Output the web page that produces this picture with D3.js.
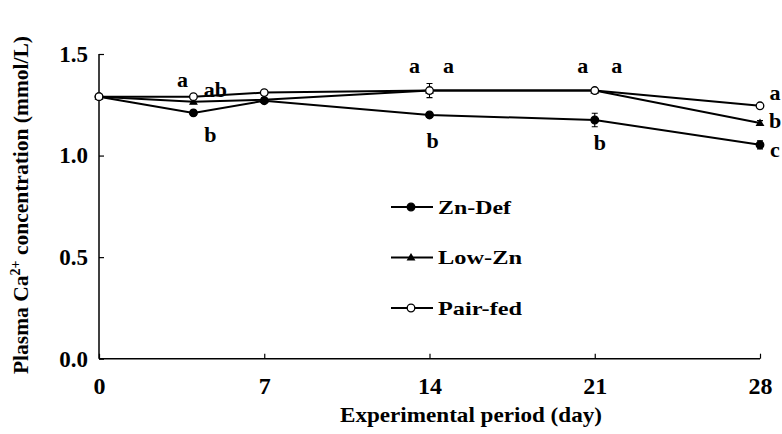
<!DOCTYPE html>
<html>
<head>
<meta charset="utf-8">
<script src="https://cdn.jsdelivr.net/npm/d3@7"></script>
<style>
body { margin: 0; background: #fff; }
</style>
</head>
<body>
<div id="chart"></div>
<script>
var days = [0, 4, 7, 14, 21, 28]
var yTicks = [0.0, 0.5, 1.0, 1.5]
var xTicks = [0, 7, 14, 21, 28]

var znDef   = [1.29, 1.21, 1.27, 1.20, 1.175, 1.053]
var lowZn   = [1.29, 1.265, 1.275, 1.32, 1.32, 1.16]
var pairFed = [1.29, 1.29, 1.31, 1.32, 1.32, 1.245]

var znDefErr   = [0, 0.01, 0.01, 0.01, 0.033, 0.02]
var lowZnErr   = [0, 0.01, 0.01, 0.01, 0.01, 0.012]
var pairFedErr = [0, 0.01, 0.01, 0.035, 0.01, 0.01]

// significance letters: [day, value, text, dx, dy]
var letters = [
  [4, 1.29, "a", -11, -10], [4, 1.29, "ab", 22, 0], [4, 1.21, "b", 17, 29],
  [14, 1.32, "a", -15, -18], [14, 1.32, "a", 19, -18], [14, 1.20, "b", 3, 33],
  [21, 1.32, "a", -12, -18], [21, 1.32, "a", 22, -18], [21, 1.175, "b", 5, 30],
  [28, 1.245, "a", 15, -6], [28, 1.16, "b", 15, 5], [28, 1.053, "c", 15, 12]
]

var series = [
  {name: "Zn-Def", values: znDef, err: znDefErr, shape: "dot"},
  {name: "Low-Zn", values: lowZn, err: lowZnErr, shape: "tri"},
  {name: "Pair-fed", values: pairFed, err: pairFedErr, shape: "open"}
]

var serif = "Liberation Serif"
var width = 782, height = 434
var x = d3.scaleLinear().domain([0, 28]).range([99, 760])
var y = d3.scaleLinear().domain([0, 1.5]).range([358.7, 54])

var svg = d3.select("#chart").append("svg")
    .attr("width", width).attr("height", height)
    .style("font-family", serif)

// axes
svg.append("g")
    .attr("transform", "translate(0," + y(0) + ")")
    .call(d3.axisBottom(x).tickValues(xTicks).tickSize(-5).tickPadding(18).tickFormat(d3.format("d")))
    .call(function(g) {
        g.attr("font-family", null)
        g.select(".domain").attr("stroke-width", 1.5).attr("d", "M" + x(0) + ",0H" + x(28))
        g.selectAll("line").attr("stroke-width", 1.2)
        g.selectAll("text").style("font-family", serif).style("font-weight", "bold")
            .attr("font-size", 24).attr("dy", "0.71em")
    })

svg.append("g")
    .attr("transform", "translate(" + x(0) + ",0)")
    .call(d3.axisLeft(y).tickValues(yTicks).tickSize(-5).tickPadding(11).tickFormat(d3.format(".1f")))
    .call(function(g) {
        g.attr("font-family", null)
        g.select(".domain").attr("stroke-width", 1.5).attr("d", "M0," + y(1.5) + "V" + y(0))
        g.selectAll("line").attr("stroke-width", 1.2)
        g.selectAll("text").style("font-family", serif).style("font-weight", "bold")
            .attr("font-size", 23)
    })

svg.append("text")
    .attr("x", 340).attr("y", 422)
    .attr("font-size", 22).style("font-weight", "bold")
    .attr("textLength", 262).attr("lengthAdjust", "spacingAndGlyphs")
    .text("Experimental period (day)")

var yt = svg.append("text")
    .attr("transform", "translate(28,205) rotate(-90)")
    .attr("text-anchor", "middle").attr("font-size", 21.5).style("font-weight", "bold")
yt.append("tspan").text("Plasma Ca")
yt.append("tspan").attr("dy", -8).attr("font-size", 14).text("2+")
yt.append("tspan").attr("dy", 8).text(" concentration (mmol/L)")

var line = d3.line().x(function(d, i) { return x(days[i]) }).y(function(d) { return y(d) })

function drawMarker(g, shape, cx, cy) {
    if (shape == "tri") {
        g.append("path")
            .attr("d", d3.symbol().type(d3.symbolTriangle).size(34)())
            .attr("transform", "translate(" + cx + "," + (cy + 0.5) + ")")
            .attr("fill", "#000")
    } else {
        g.append("circle").attr("cx", cx).attr("cy", cy).attr("r", 3.8)
            .attr("fill", shape == "open" ? "#fff" : "#000")
            .attr("stroke", "#000").attr("stroke-width", 1.3)
    }
}

series.forEach(function(s) {
    var g = svg.append("g")
    g.append("path").datum(s.values)
        .attr("d", line).attr("fill", "none")
        .attr("stroke", "#000").attr("stroke-width", 2)
    s.values.forEach(function(v, i) {
        if (s.err[i] > 0) {
            var cx = x(days[i])
            g.append("path")
                .attr("d", "M" + cx + "," + y(v - s.err[i]) + "V" + y(v + s.err[i]) +
                    "M" + (cx - 3) + "," + y(v - s.err[i]) + "H" + (cx + 3) +
                    "M" + (cx - 3) + "," + y(v + s.err[i]) + "H" + (cx + 3))
                .attr("stroke", "#000").attr("stroke-width", 1.1)
        }
    })
})
// markers drawn after lines so the open circles sit on top
series.forEach(function(s) {
    var g = svg.append("g")
    s.values.forEach(function(v, i) { drawMarker(g, s.shape, x(days[i]), y(v)) })
})

letters.forEach(function(l) {
    svg.append("text")
        .attr("x", x(l[0]) + l[3]).attr("y", y(l[1]) + l[4])
        .attr("text-anchor", "middle").attr("font-size", 22).style("font-weight", "bold")
        .text(l[2])
})

// legend
var legendWidths = [73, 84, 84]
var leg = svg.append("g")
series.forEach(function(s, i) {
    var ly = 207 + i * 50.5
    leg.append("line").attr("x1", 391).attr("x2", 433).attr("y1", ly).attr("y2", ly)
        .attr("stroke", "#000").attr("stroke-width", 2.2)
    drawMarker(leg, s.shape, 411, ly)
    leg.append("text").attr("x", 438).attr("y", ly + 6.5)
        .attr("font-size", 19).style("font-weight", "bold")
        .attr("textLength", legendWidths[i]).attr("lengthAdjust", "spacingAndGlyphs")
        .text(s.name)
})
</script>
</body>
</html>
